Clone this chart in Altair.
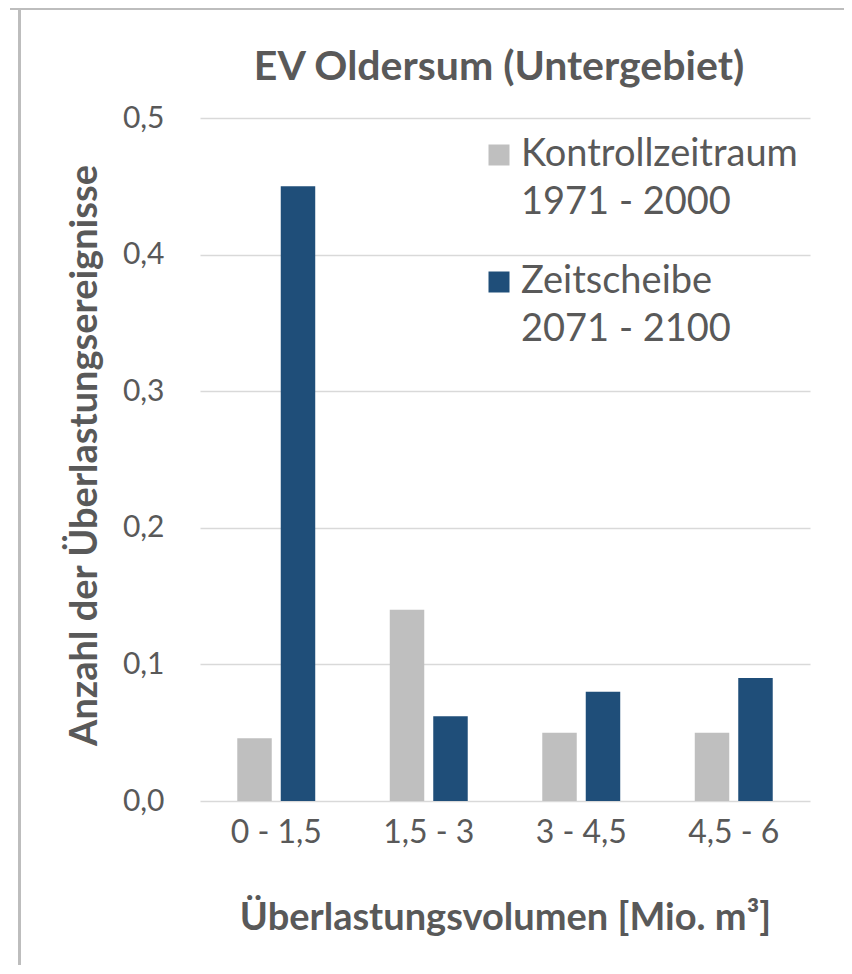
import altair as alt
import pandas as pd

categories = ["0 - 1,5", "1,5 - 3", "3 - 4,5", "4,5 - 6"]
series = ["Kontrollzeitraum|1971 - 2000", "Zeitscheibe|2071 - 2100"]
kontroll = [0.046, 0.14, 0.05, 0.05]
zeitscheibe = [0.45, 0.062, 0.08, 0.09]
colors = ["#BFBFBF", "#1F4E79"]
y_ticks = [0.0, 0.1, 0.2, 0.3, 0.4, 0.5]
chart_title = "EV Oldersum (Untergebiet)"

rows = []
for i, c in enumerate(categories):
    rows.append({"Kategorie": c, "Serie": series[0], "Wert": kontroll[i]})
    rows.append({"Kategorie": c, "Serie": series[1], "Wert": zeitscheibe[i]})
df = pd.DataFrame(rows)

FONT = "Lato"
TXT = "#595959"

bars = alt.Chart(df).mark_bar().encode(
    x=alt.X("Kategorie:N", sort=categories,
            scale=alt.Scale(paddingInner=0, paddingOuter=0),
            axis=alt.Axis(title="Überlastungsvolumen [Mio. m³]", labelAngle=0,
                          ticks=False, tickSize=0, domain=False,
                          labelPadding=31, labelBaseline="middle",
                          labelFontSize=32, labelColor=TXT, labelFont=FONT,
                          titleFontSize=38, titleFont=FONT, titleFontWeight="bold",
                          titleColor=TXT, titleY=128, titleBaseline="alphabetic")),
    xOffset=alt.XOffset("Serie:N", sort=series,
                        scale=alt.Scale(paddingInner=0.207, paddingOuter=0.857)),
    y=alt.Y("Wert:Q", scale=alt.Scale(domain=[0, 0.5], nice=False),
            axis=alt.Axis(title="Anzahl der Überlastungsereignisse", values=y_ticks,
                          labelExpr="replace(format(datum.value, '.1f'), '.', ',')",
                          ticks=False, tickSize=0, domain=False, labelPadding=36,
                          labelFontSize=30, labelColor=TXT, labelFont=FONT,
                          gridColor="#D9D9D9", gridWidth=1.3,
                          titleFontSize=38, titleFont=FONT, titleFontWeight="bold",
                          titleColor=TXT, titleX=-115, titleY=337,
                          titleBaseline="middle", titleAngle=-90)),
    color=alt.Color("Serie:N", sort=series,
                    scale=alt.Scale(domain=series, range=colors),
                    legend=alt.Legend(title=None, orient="none", legendX=280, legendY=18,
                                      padding=0,
                                      labelExpr="split(datum.label, '|')",
                                      labelFont=FONT, labelFontSize=38, labelColor=TXT,
                                      labelLimit=600,
                                      labelBaseline="middle", labelOffset=3,
                                      symbolType="square",
                                      symbolSize=441, symbolStrokeWidth=0,
                                      rowPadding=41)),
)

title_layer = alt.Chart(pd.DataFrame({"t": [chart_title]})).mark_text(
    font=FONT, fontSize=41, fontWeight="bold", color=TXT, align="center",
    baseline="alphabetic").encode(text="t:N", x=alt.value(299), y=alt.value(-38))

frame_top = alt.Chart(pd.DataFrame({"v": [0]})).mark_rule(color="#BDBDBD", strokeWidth=3).encode(
    x=alt.value(-190), x2=alt.value(680), y=alt.value(-109.5))
frame_left = alt.Chart(pd.DataFrame({"v": [0]})).mark_rule(color="#BDBDBD", strokeWidth=3).encode(
    x=alt.value(-180.5), y=alt.value(-111), y2=alt.value(900))

chart = alt.layer(bars, title_layer, frame_top, frame_left).properties(
    width=610, height=683,
    autosize=alt.AutoSizeParams(type="none"),
    padding={"left": 192, "top": 110, "right": 34, "bottom": 164},
).configure(background="white", view={"stroke": None},
            style={"guide-label": {"lineHeight": 48}})

chart.save("out.html", embed_options={"renderer": "svg", "actions": False})
